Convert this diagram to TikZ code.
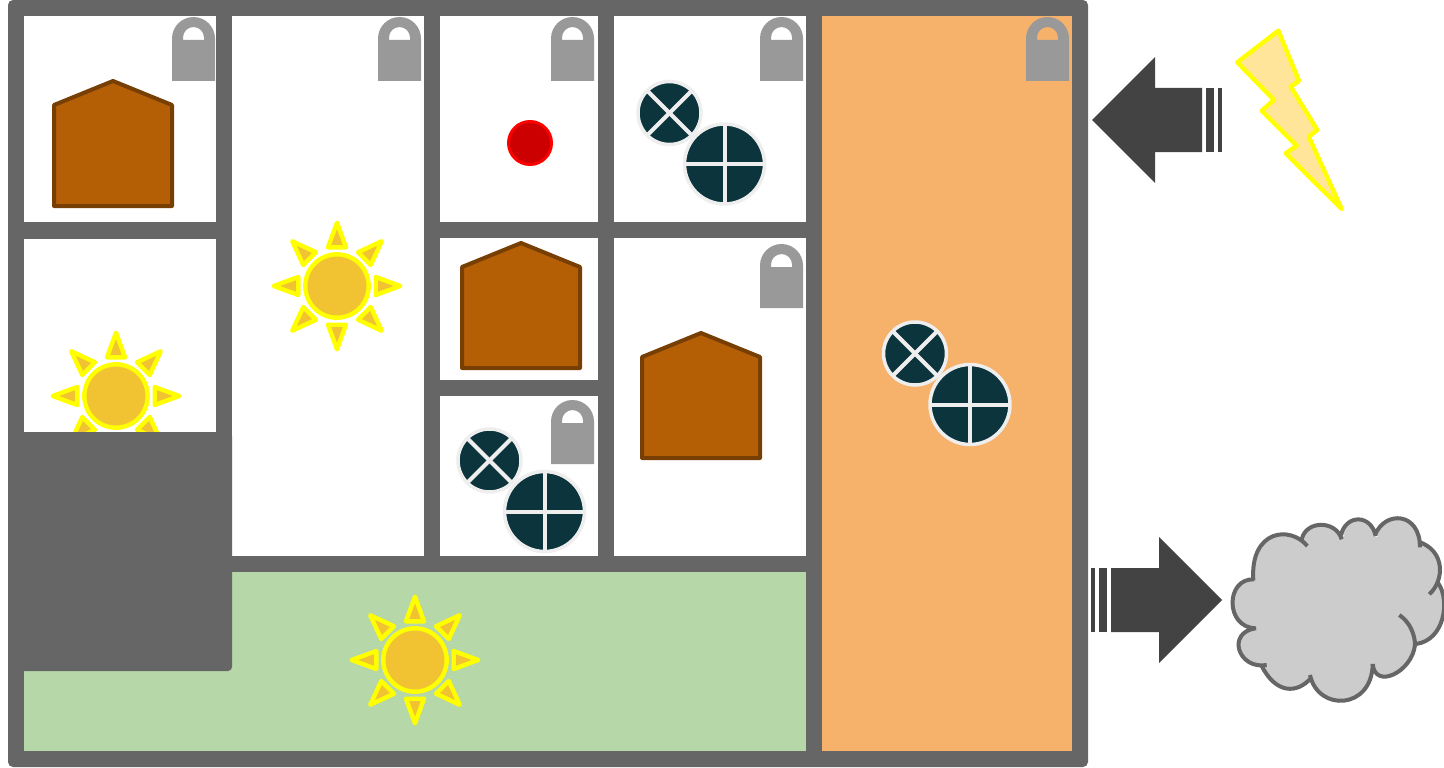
\documentclass[tikz,border=0pt]{standalone}
\usepackage{tikz}
\usetikzlibrary{positioning}

\definecolor{wallgray}{HTML}{666666}
\definecolor{lockgray}{HTML}{999999}
\definecolor{arrowgray}{HTML}{434343}
\definecolor{roomorange}{HTML}{F6B26B}
\definecolor{roomgreen}{HTML}{B6D7A8}
\definecolor{housefill}{HTML}{B45F06}
\definecolor{houseline}{HTML}{783F04}
\definecolor{sunfill}{HTML}{F1C232}
\definecolor{sunline}{HTML}{FFFF00}
\definecolor{boltfill}{HTML}{FFE599}
\definecolor{fanfill}{HTML}{0C343D}
\definecolor{fanline}{HTML}{EEEEEE}
\definecolor{cloudfill}{HTML}{CCCCCC}

\begin{document}
\begin{tikzpicture}[
    x=1pt, y=-1pt,
    room/.style={fill=white},
    sunshape/.style={fill=sunfill, draw=sunline, line width=4.4pt, line join=round},
    houseshape/.style={fill=housefill, draw=houseline, line width=4pt, line join=round},
    fanshape/.style={fill=fanfill, draw=fanline, line width=3.5pt},
    fanbar/.style={draw=fanline, line width=4pt},
    boltshape/.style={fill=boltfill, draw=sunline, line width=4.4pt, line join=round},
    cloudshape/.style={fill=cloudfill, draw=wallgray, line width=4pt},
    block/.style={fill=arrowgray},
    lockicon/.pic={
        \fill[lockgray, even odd rule] (0,64) -- (0,21.5) arc[start angle=180, end angle=0, radius=21.5pt] -- (43,64) -- cycle
            (11,23) -- (11,20.5) arc[start angle=180, end angle=0, radius=10.5pt] -- (32,23) -- cycle;
    },
    houseicon/.pic={
        \draw[houseshape] (0,24) -- (59,0) -- (118,24) -- (118,125) -- (0,125) -- cycle;
    },
    sunicon/.pic={
        \draw[sunshape] (0,0) circle[radius=31.7pt];
        \foreach \a in {0,45,...,315}
            \draw[sunshape, rotate=\a] (38.7,-9) -- (63.3,0) -- (38.7,9) -- cycle;
    },
    fanicon/.pic={
        \draw[fanshape] (0,0) circle[radius=31.5pt];
        \draw[fanbar] (-22.3,-22.3) -- (22.3,22.3);
        \draw[fanbar] (-22.3,22.3) -- (22.3,-22.3);
        \draw[fanshape] (55,51) circle[radius=40pt];
        \draw[fanbar] (15,51) -- (95,51);
        \draw[fanbar] (55,11) -- (55,91);
    }
]
    \useasboundingbox (0,0) rectangle (1444,768);

    % walls and rooms
    \fill[wallgray, rounded corners=5pt] (8,0) rectangle (1088,767);
    \foreach \xa/\ya/\xb/\yb in {23.5/16/216/221.5, 23.5/238.5/216/440, 232/16/424/556, 440/16/598/221.5,
        614/16/806/221.5, 440/238/598/380, 440/396/598/556, 614/238/806/556}
        \fill[room] (\xa,\ya) rectangle (\xb,\yb);
    \fill[roomgreen] (23.5,572) rectangle (806,751);
    \fill[roomorange] (822,16) rectangle (1072,751);

    % suns
    \pic at (337,286) {sunicon};
    \pic at (116,396) {sunicon};
    \pic at (415,660) {sunicon};

    % block over the lower left room
    \fill[wallgray, rounded corners=4pt] (8,432) rectangle (232,671);

    % locks
    \foreach \x/\y in {172/17, 378/17, 551/17, 760/17, 1026/17, 760/244, 551/400}
        \pic at (\x,\y) {lockicon};

    % houses
    \foreach \x/\y in {54/81, 462/243, 642/333}
        \pic at (\x,\y) {houseicon};

    % fans
    \foreach \x/\y in {669.5/113, 489.5/460.5, 915/353.5}
        \pic at (\x,\y) {fanicon};

    \draw[fill=red!80!black, draw=red, line width=3pt] (530,143) circle[radius=21.5pt];

    % arrow in
    \fill[block] (1092,120) -- (1155,57) -- (1155,88) -- (1202,88) -- (1202,152) -- (1155,152) -- (1155,183) -- cycle;
    \fill[block] (1206,88) rectangle (1214,152);
    \fill[block] (1218,88) rectangle (1222,152);

    % arrow out
    \fill[block] (1222,600) -- (1159,537) -- (1159,568) -- (1111,568) -- (1111,632) -- (1159,632) -- (1159,663) -- cycle;
    \fill[block] (1099,568) rectangle (1107,632);
    \fill[block] (1091,568) rectangle (1095,632);

    \draw[boltshape] (1278.3,30.7) -- (1299,81) -- (1290.7,86.7) -- (1317.3,130) -- (1308.7,136.7) -- (1341.7,209)
        -- (1285.7,153.3) -- (1296.7,145.7) -- (1261.7,110.7) -- (1274,100) -- (1237.3,62.3) -- cycle;

    % cloud
    \fill[cloudfill] (1240,600) -- (1254,580) -- (1270,545) -- (1303,548) -- (1303,538) -- (1320,530) -- (1341,538)
        -- (1358,525) -- (1376,537) -- (1395,530) -- (1418,543) -- (1430,570) -- (1429,592) -- (1437,590) -- (1434,615)
        -- (1416,645) -- (1373,668) -- (1342,690) -- (1311,677) -- (1285,682) -- (1264,665) -- (1245,640)
        -- (1256,628) -- cycle;
    \path[cloudshape]
        (1253.3,580) .. controls (1250,530) and (1290,525) .. (1307.3,546)
        (1301.7,539.3) .. controls (1306,520) and (1336,520) .. (1341.7,539.3)
        (1341,535) .. controls (1346,514) and (1371,514) .. (1375.7,536)
        (1375,535) .. controls (1385,510) and (1420,512) .. (1420,547.3)
        (1418.3,541.7) .. controls (1445,550) and (1445,580) .. (1429.3,594.3)
        (1438.3,583.3) .. controls (1450,600) and (1445,640) .. (1416,644)
        (1372.7,664) .. controls (1372,710) and (1318,712) .. (1310,675)
        (1311,678) .. controls (1297,694) and (1276,694) .. (1261.7,666)
        (1266.7,665) .. controls (1238,670) and (1226,632) .. (1256,628.3)
        (1256,628.3) .. controls (1225,628) and (1225,578) .. (1254.3,579.3);
    \draw[cloudshape] (1399.3,615) .. controls (1410,622) and (1415,635) .. (1415,645)
        .. controls (1412,672) and (1375,690) .. (1372.7,664);
\end{tikzpicture}
\end{document}
